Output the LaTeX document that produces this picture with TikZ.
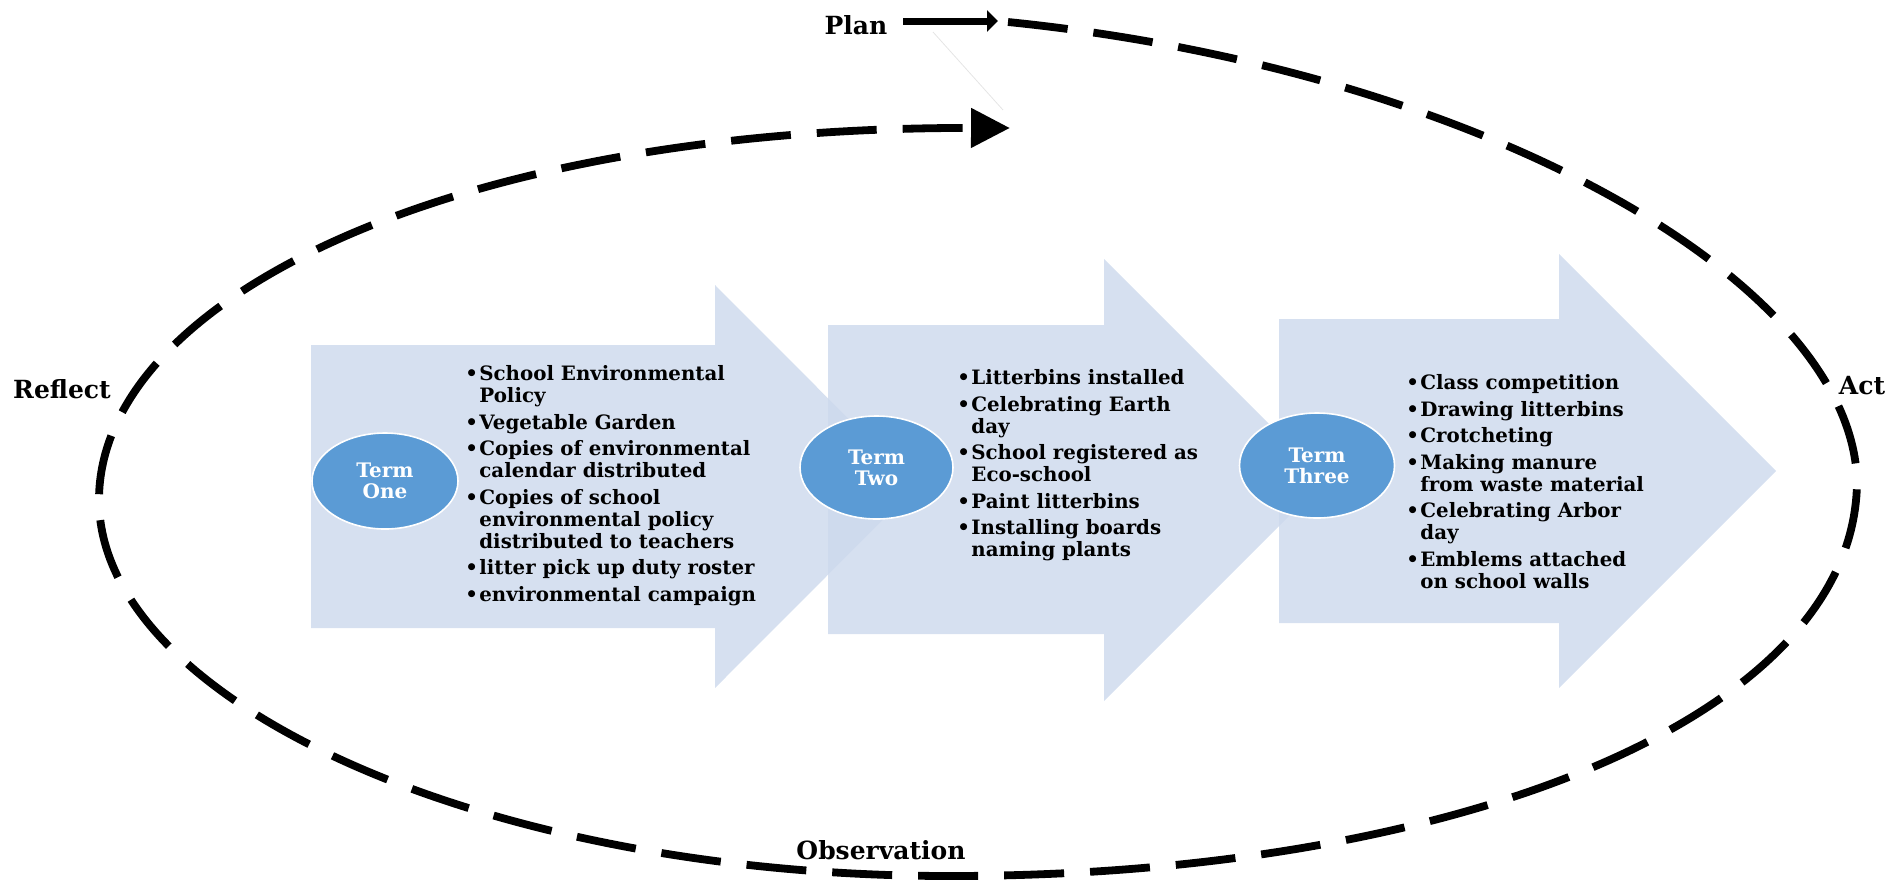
\documentclass[tikz,border=0pt]{standalone}
\usepackage{fontspec}
\setmainfont{DejaVu Serif}
\usepackage{graphicx}
\usetikzlibrary{arrows.meta,shapes.geometric}
\definecolor{blockfill}{RGB}{204,216,236}
\definecolor{termfill}{RGB}{91,155,213}
% bullet and continuation indent for the activity lists
\newcommand\itemdot{\makebox[7pt][l]{\textbullet}}
\newcommand\itemcont{\makebox[7pt]{}}
\newcommand\itemgap{2.3pt}
\begin{document}
\begin{tikzpicture}[x=0.5pt,y=-0.5pt,
  blockarrow/.style={fill=blockfill,fill opacity=0.8,draw=none},
  termnode/.style={ellipse,fill=termfill,draw=white,line width=0.8pt,text=white,
    font=\fontsize{10}{10.5}\selectfont\bfseries,align=center,inner sep=0pt},
  listtext/.style={font=\fontsize{9.9}{11}\selectfont\bfseries,align=left,
    inner sep=0pt,anchor=north west},
  cyclelabel/.style={font=\fontsize{12.5}{14}\selectfont\bfseries,inner sep=0pt},
  loopline/.style={line width=3.9pt,dash pattern=on 30pt off 13pt},
  planarrow/.style={line width=3.5pt,-{Triangle[length=5.5pt,width=10.5pt]}},
]
\useasboundingbox (0,0) rectangle (1904,879);

% three block arrows, later ones over the tips of earlier ones
\fill[blockarrow] (311,345) -- (715,345) -- (715,285) -- (916,486.5)
  -- (715,688) -- (715,628) -- (311,628) -- cycle;
\fill[blockarrow] (828,325) -- (1104,325) -- (1104,259) -- (1325,480)
  -- (1104,701) -- (1104,634) -- (828,634) -- cycle;
\fill[blockarrow] (1279,319) -- (1559,319) -- (1559,254) -- (1776,471)
  -- (1559,688) -- (1559,623) -- (1279,623) -- cycle;

% term ellipses
\node[termnode,minimum width=73pt,minimum height=48pt] (termOne) at (385,481) {Term\\One};
\node[termnode,minimum width=76.5pt,minimum height=51.5pt] (termTwo) at (876.5,467.5) {Term\\Two};
\node[termnode,minimum width=77.5pt,minimum height=52.5pt] (termThree) at (1317,465.5) {Term\\Three};

% activity lists
\node[listtext] (listOne) at (465,365) {%
\itemdot School Environmental\\
\itemcont Policy\\[\itemgap]
\itemdot Vegetable Garden\\[\itemgap]
\itemdot Copies of environmental\\
\itemcont calendar distributed\\[\itemgap]
\itemdot Copies of school\\
\itemcont environmental policy\\
\itemcont distributed to teachers\\[\itemgap]
\itemdot litter pick up duty roster\\[\itemgap]
\itemdot environmental campaign};

\node[listtext] (listTwo) at (957,369) {%
\itemdot Litterbins installed\\[\itemgap]
\itemdot Celebrating Earth\\
\itemcont day\\[\itemgap]
\itemdot School registered as\\
\itemcont Eco-school\\[\itemgap]
\itemdot Paint litterbins\\[\itemgap]
\itemdot Installing boards\\
\itemcont naming plants};

\node[listtext] (listThree) at (1406,374) {%
\itemdot Class competition\\[\itemgap]
\itemdot Drawing litterbins\\[\itemgap]
\itemdot Crotcheting\\[\itemgap]
\itemdot Making manure\\
\itemcont from waste material\\[\itemgap]
\itemdot Celebrating Arbor\\
\itemcont day\\[\itemgap]
\itemdot Emblems attached\\
\itemcont on school walls};

% cycle stage labels
\node[cyclelabel] (plan) at (856,25) {Plan};
\node[cyclelabel] (act) at (1862,386) {Act};
\node[cyclelabel] (observation) at (881,850) {Observation};
\node[cyclelabel] (reflect) at (62,389) {Reflect};

% the plan-act-observe-reflect loop
\coordinate (planStart) at (903,21);
\coordinate (planEnd) at (998,21);
\coordinate (loopStart) at (1008,22);
\coordinate (actSide) at (1857,480);
\coordinate (obsSide) at (950,876);
\coordinate (reflectSide) at (99,500);
\coordinate (loopEnd) at (1010,128);

\draw[planarrow] (planStart) -- (planEnd);
\draw[black!10,line width=0.4pt] (933,32) -- (1003,110);
\draw[loopline,-{Triangle[length=19.5pt,width=19pt]}]
  (loopStart) .. controls (1480,70) and (1850,280) .. (actSide)
  .. controls (1857,720) and (1450,876) .. (obsSide)
  .. controls (480,876) and (99,700) .. (reflectSide)
  .. controls (99,300) and (450,127) .. (loopEnd);
\end{tikzpicture}
\end{document}
